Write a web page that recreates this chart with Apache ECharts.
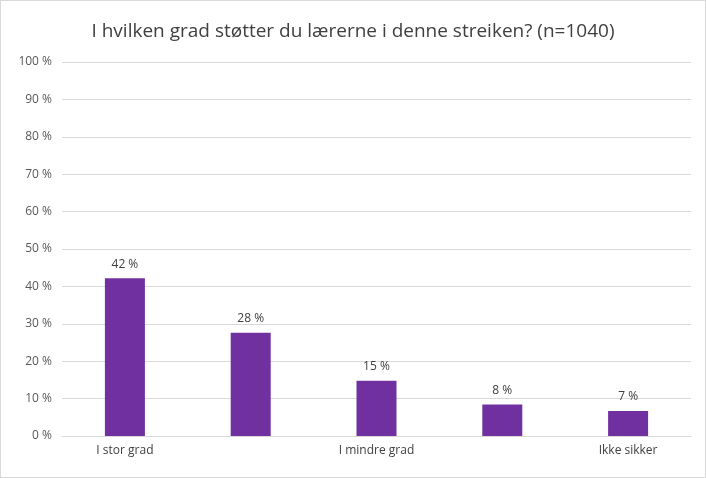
<!DOCTYPE html>
<html><head><meta charset="utf-8">
<script src="https://cdn.jsdelivr.net/npm/echarts@6/dist/echarts.min.js"></script>
<style>html,body{margin:0;padding:0;background:#fff}#c{width:706px;height:478px;box-sizing:border-box;border:1px solid #d9d9d9}</style>
</head><body><div id="c"></div>
<script>
const categories = ["I stor grad","I noen grad","I mindre grad","Ikke i det hele tatt","Ikke sikker"];
const values = [42.2, 27.6, 14.8, 8.4, 6.7];
const chart = echarts.init(document.getElementById('c'));
chart.setOption({
  animation:false,
  title:{text:"I hvilken grad støtter du lærerne i denne streiken? (n=1040)",left:'center',top:16,
    textStyle:{fontFamily:'Open Sans',fontSize:19,fontWeight:'normal',color:'#404040'}},
  grid:{left:61,right:14,top:61,bottom:41},
  xAxis:{type:'category',data:categories,axisTick:{show:false},
    axisLine:{lineStyle:{color:'#d9d9d9'}},
    axisLabel:{color:'#404040',fontFamily:'Open Sans',fontSize:12,margin:9}},
  yAxis:{type:'value',min:0,max:100,interval:10,
    axisLabel:{formatter:v=>v+' %',color:'#595959',fontFamily:'Open Sans',fontSize:12,margin:10},
    splitLine:{lineStyle:{color:'#d9d9d9'}}},
  series:[{type:'bar',data:values,barWidth:40,itemStyle:{color:'#7030a0'},
    label:{show:true,position:'top',formatter:p=>Math.round(p.value)+' %',color:'#404040',fontFamily:'Open Sans',fontSize:12,distance:8}}]
});
</script></body></html>
